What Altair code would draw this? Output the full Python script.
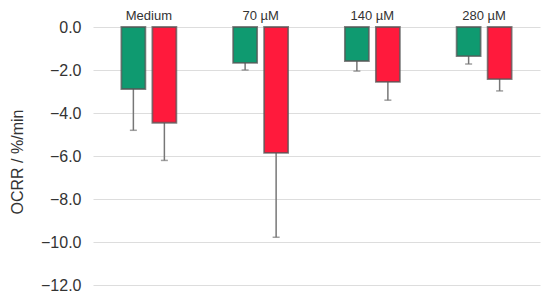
import altair as alt
import pandas as pd

groups = ["Medium", "70 µM", "140 µM", "280 µM"]
series = ["A", "B"]
green_mean = [-2.88, -1.67, -1.58, -1.35]
green_low = [-4.8, -2.0, -2.05, -1.72]
red_mean = [-4.45, -5.85, -2.55, -2.42]
red_low = [-6.2, -9.77, -3.4, -2.97]

rows = []
for i, g in enumerate(groups):
    rows.append({"group": g, "series": "A", "value": green_mean[i], "low": green_low[i]})
    rows.append({"group": g, "series": "B", "value": red_mean[i], "low": red_low[i]})
df = pd.DataFrame(rows)

x = alt.X("group:N", sort=groups, title=None,
          scale=alt.Scale(paddingInner=0, paddingOuter=0),
          axis=alt.Axis(orient="top", domain=False, ticks=False, labelAngle=0,
                        labelPadding=5, labelFontSize=13, labelColor="#333",
                        labelFont="Liberation Sans"))
xo = alt.XOffset("series:N", sort=series,
                 scale=alt.Scale(paddingInner=0.226, paddingOuter=0.915))
yscale = alt.Scale(domain=[-12.5, 0], nice=False, zero=False)
y = alt.Y("value:Q", scale=yscale, title="OCRR / %/min",
          axis=alt.Axis(values=[0, -2, -4, -6, -8, -10, -12], format=".1f",
                        domain=False, ticks=False, labelPadding=12,
                        labelFontSize=16, labelColor="#333", labelFont="Liberation Sans",
                        titleFontSize=16, titleFont="Liberation Sans", titleColor="#333",
                        titleFontWeight="normal", titleX=-68,
                        gridColor="#dddddd", gridWidth=1.2))

base = alt.Chart(df)

bars = base.mark_bar(stroke="#555555", strokeOpacity=0.75, strokeWidth=1.8).encode(
    x=x, xOffset=xo, y=y, y2=alt.datum(0),
    color=alt.Color("series:N", legend=None,
                    scale=alt.Scale(domain=series, range=["#0f9a70", "#ff1a3c"]))
)

err = base.mark_rule(color="#777777", strokeWidth=1.5).encode(
    x=x, xOffset=xo, y=alt.Y("value:Q", scale=yscale), y2="low:Q"
)
caps = base.mark_tick(color="#777777", thickness=1.5, size=7).encode(
    x=x, xOffset=xo, y=alt.Y("low:Q", scale=yscale)
)

chart = alt.layer(err, bars, caps).properties(
    width=447, height=269,
    autosize=alt.AutoSizeParams(type="none"),
    padding={"left": 85, "top": 19, "right": 2, "bottom": 0},
).configure_view(stroke=None)

chart.save("out.html", embed_options={"renderer": "svg", "actions": False})
